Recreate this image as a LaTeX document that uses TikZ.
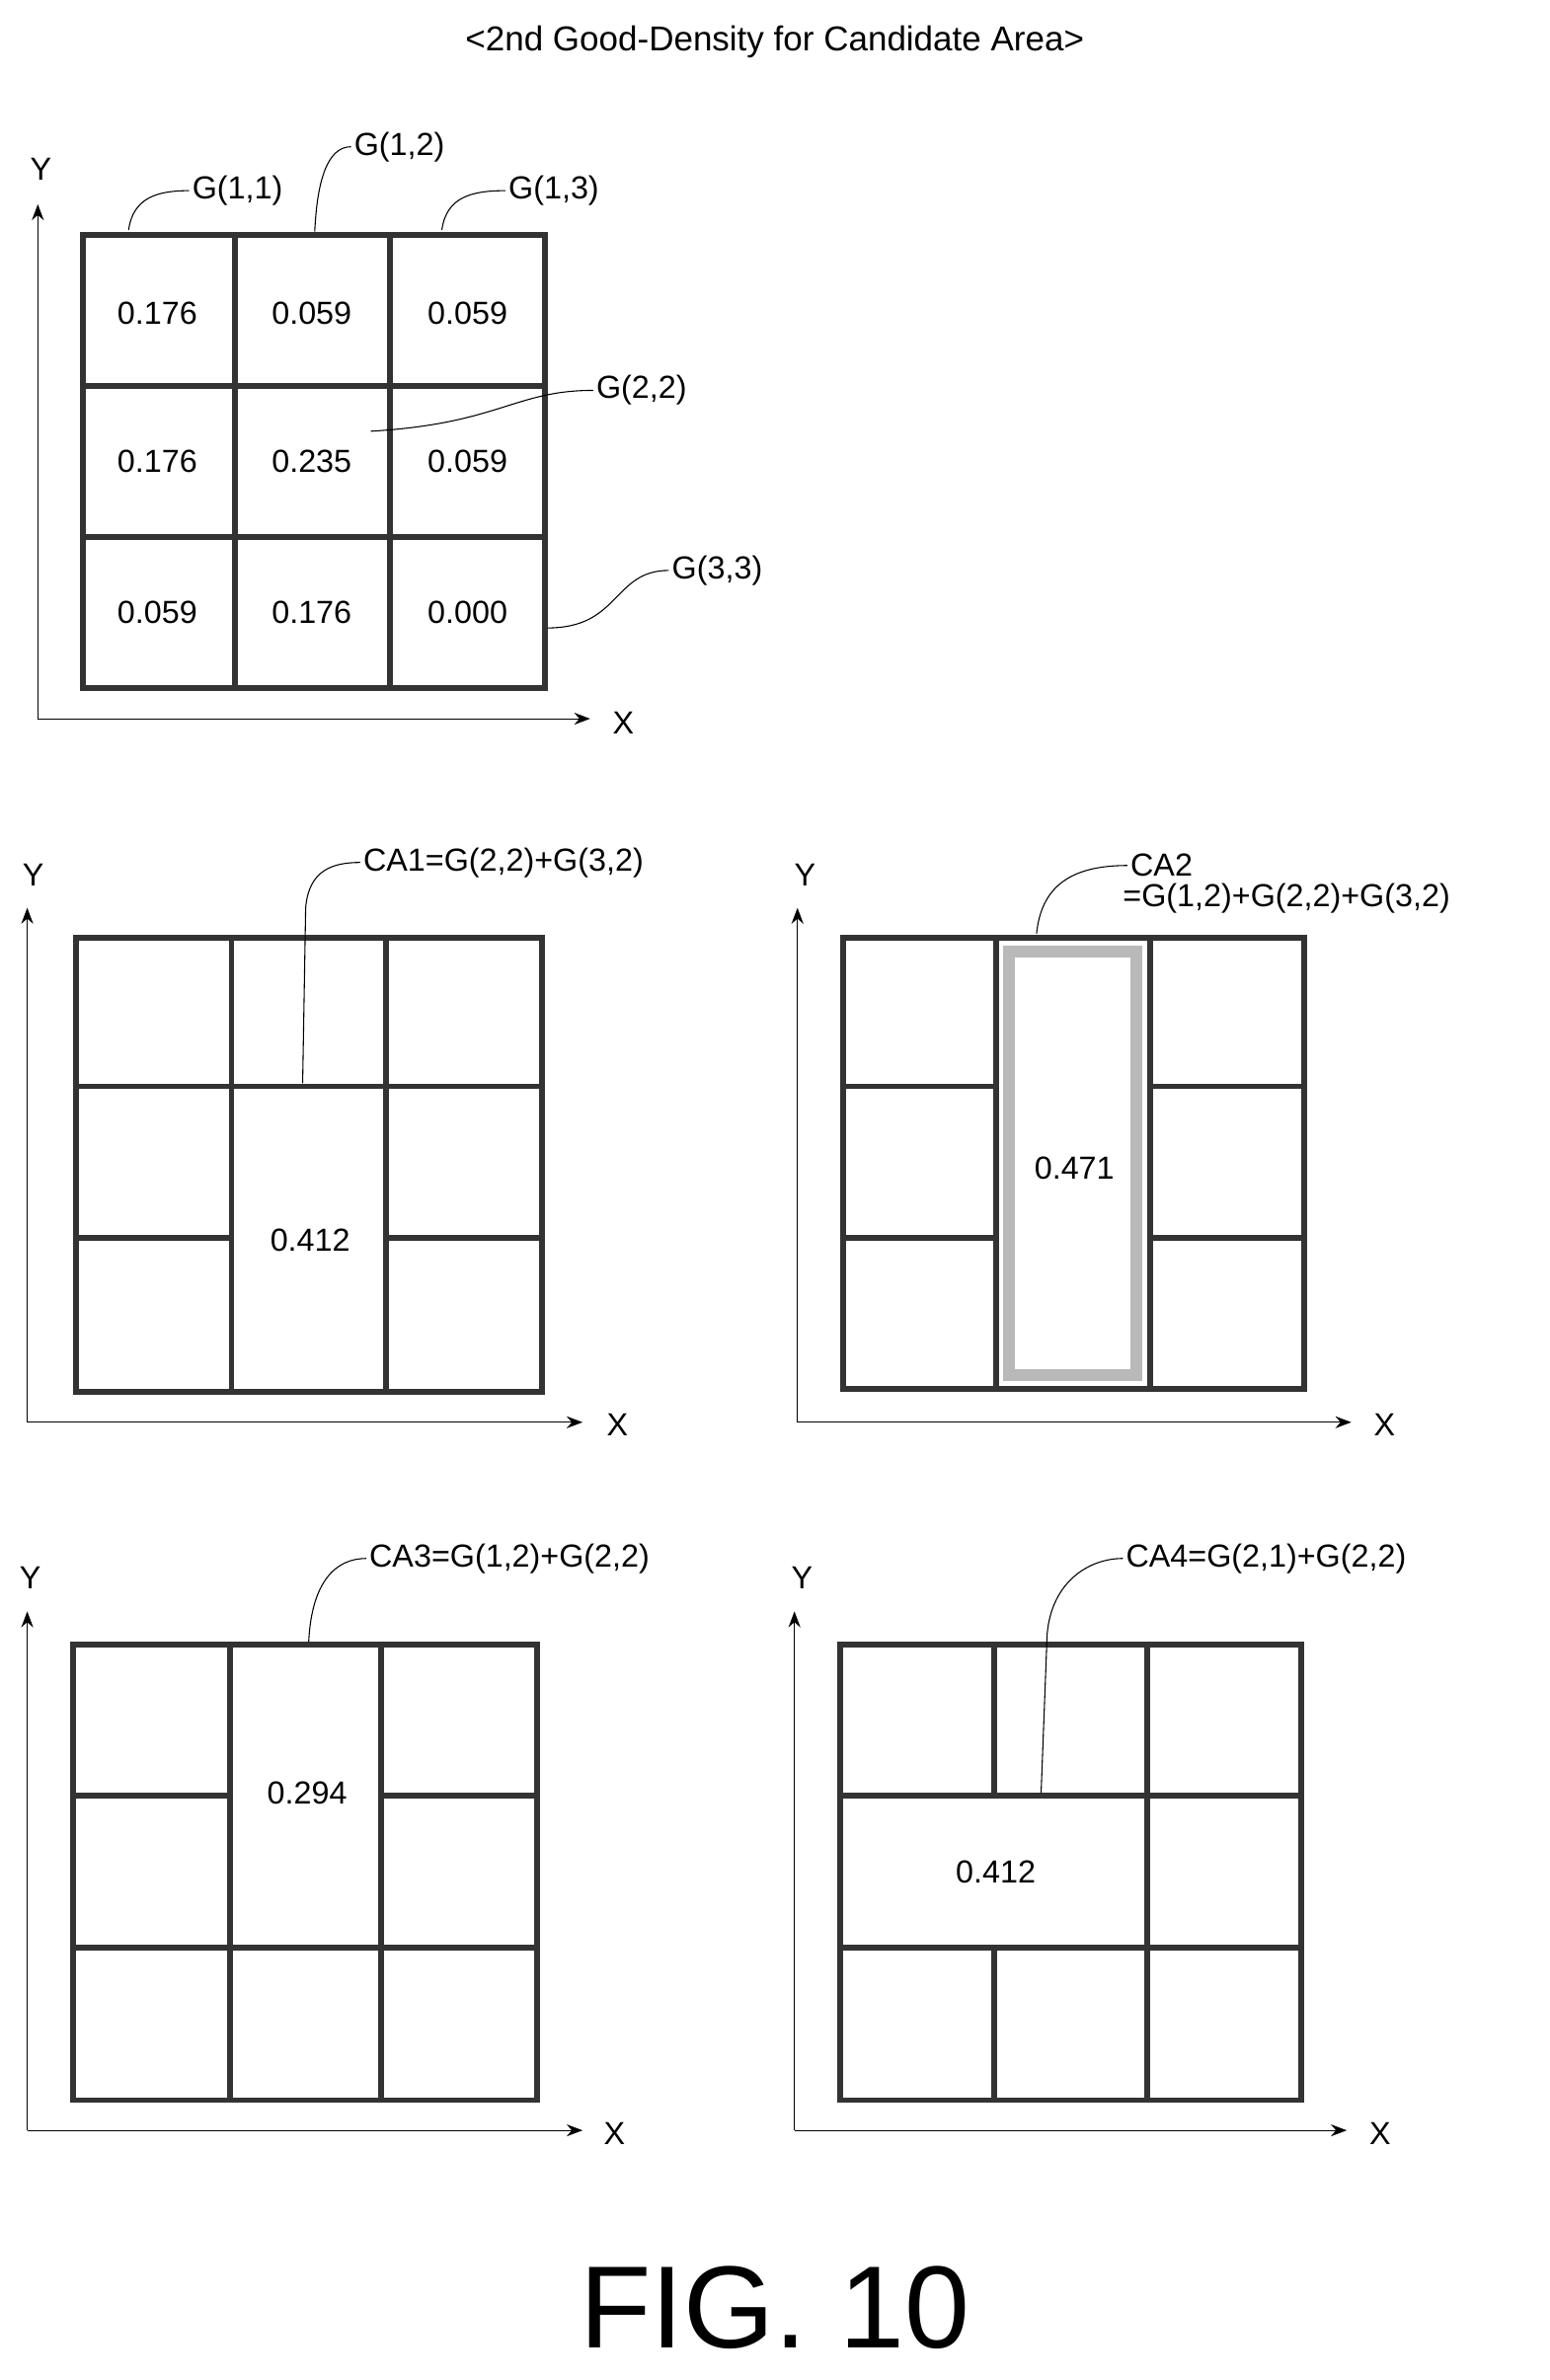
\documentclass[tikz,border=0pt]{standalone}
\usepackage{fontspec}
\setmainfont{Liberation Sans}
\usetikzlibrary{arrows.meta}
\tikzset{grid/.style={line width=2.2pt,black!80},
 ax/.style={thin,-{Stealth[length=6pt]}},
 lead/.style={thin},
 lbl/.style={font=\fontsize{12}{14}\selectfont,inner sep=1pt}}
\begin{document}
\begin{tikzpicture}[x=0.02cm,y=-0.02cm]
\useasboundingbox (0,0) rectangle (1024,1573);
\node[font=\fontsize{13}{15}\selectfont] (title) at (512,28) {<2nd Good-Density for Candidate Area>};
% top grid
\draw[ax] (25,475) -- (25,135);
\draw[ax] (25,475) -- (390,475);
\node[lbl] (y0) at (27,112) {Y};
\node[lbl] (x0) at (412,478) {X};
\draw[grid] (55,155) rectangle (360,455);
\draw[grid] (155,155) -- (155,455) (258,155) -- (258,455);
\draw[grid] (55,255) -- (360,255) (55,355) -- (360,355);
\node[lbl] at (104,207) {0.176}; \node[lbl] at (206,207) {0.059}; \node[lbl] at (309,207) {0.059};
\node[lbl] at (104,305) {0.176}; \node[lbl] at (206,305) {0.235}; \node[lbl] at (309,305) {0.059};
\node[lbl] at (104,405) {0.059}; \node[lbl] at (206,405) {0.176}; \node[lbl] at (309,405) {0.000};
\node[lbl,anchor=west] (g11) at (125,126) {G(1,1)};
\draw[lead] (85,152) .. controls (88,130) and (105,126) .. (g11.west);
\node[lbl,anchor=west] (g12) at (232,97) {G(1,2)};
\draw[lead] (208,153) .. controls (210,110) and (220,97) .. (g12.west);
\node[lbl,anchor=west] (g13) at (334,126) {G(1,3)};
\draw[lead] (292,152) .. controls (295,130) and (312,126) .. (g13.west);
\node[lbl,anchor=west] (g22) at (392,258) {G(2,2)};
\draw[lead] (245,285) .. controls (330,280) and (340,258) .. (g22.west);
\node[lbl,anchor=west] (g33) at (442,377) {G(3,3)};
\draw[lead] (362,415) .. controls (410,415) and (405,377) .. (g33.west);
% CA1
\draw[ax] (18,940) -- (18,600);
\draw[ax] (18,940) -- (385,940);
\node[lbl] (y1) at (22,578) {Y};
\node[lbl] (x1) at (408,942) {X};
\draw[grid] (50,620) rectangle (358,920);
\draw[grid] (153,620) -- (153,920) (255,620) -- (255,920);
\draw[grid] (50,718) -- (358,718) (50,818) -- (153,818) (255,818) -- (358,818);
\node[lbl] at (205,820) {0.412};
\node[lbl,anchor=west] (ca1) at (238,570) {CA1=G(2,2)+G(3,2)};
\draw[lead] (200,716) -- (202,600) .. controls (204,575) and (220,570) .. (ca1.west);
% CA2
\draw[ax] (527,940) -- (527,600);
\draw[ax] (527,940) -- (893,940);
\node[lbl] (y2) at (532,578) {Y};
\node[lbl] (x2) at (915,942) {X};
\draw[grid] (557,620) rectangle (862,918);
\draw[grid] (658,620) -- (658,918) (760,620) -- (760,918);
\draw[grid] (557,718) -- (658,718) (557,818) -- (658,818) (760,718) -- (862,718) (760,818) -- (862,818);
\draw[line width=4.5pt,gray!55] (667,629) rectangle (751,909);
\node[lbl] at (710,772) {0.471};
\node[lbl,anchor=west] (ca2) at (745,572) {CA2};
\node[lbl,anchor=west] (ca2b) at (740,594) {=G(1,2)+G(2,2)+G(3,2)};
\draw[lead] (685,617) .. controls (688,588) and (705,572) .. (ca2.west);
% CA3
\draw[ax] (18,1408) -- (18,1065);
\draw[ax] (18,1408) -- (385,1408);
\node[lbl] (y3) at (20,1043) {Y};
\node[lbl] (x3) at (406,1410) {X};
\draw[grid] (48,1087) rectangle (355,1388);
\draw[grid] (152,1087) -- (152,1388) (252,1087) -- (252,1388);
\draw[grid] (48,1187) -- (152,1187) (252,1187) -- (355,1187) (48,1287) -- (355,1287);
\node[lbl] at (203,1185) {0.294};
\node[lbl,anchor=west] (ca3) at (242,1030) {CA3=G(1,2)+G(2,2)};
\draw[lead] (204,1085) .. controls (206,1045) and (222,1030) .. (ca3.west);
% CA4
\draw[ax] (525,1408) -- (525,1065);
\draw[ax] (525,1408) -- (890,1408);
\node[lbl] (y4) at (530,1043) {Y};
\node[lbl] (x4) at (912,1410) {X};
\draw[grid] (555,1087) rectangle (860,1388);
\draw[grid] (657,1087) -- (657,1187) (758,1087) -- (758,1388) (657,1287) -- (657,1388);
\draw[grid] (555,1187) -- (860,1187) (555,1287) -- (860,1287);
\node[lbl] at (658,1237) {0.412};
\node[lbl,anchor=west] (ca4) at (742,1030) {CA4=G(2,1)+G(2,2)};
\draw[lead] (688,1185) -- (692,1080) .. controls (695,1045) and (720,1030) .. (ca4.west);
\node[font=\fontsize{44}{48}\selectfont] (fig) at (512,1525) {FIG. 10};
\end{tikzpicture}
\end{document}
